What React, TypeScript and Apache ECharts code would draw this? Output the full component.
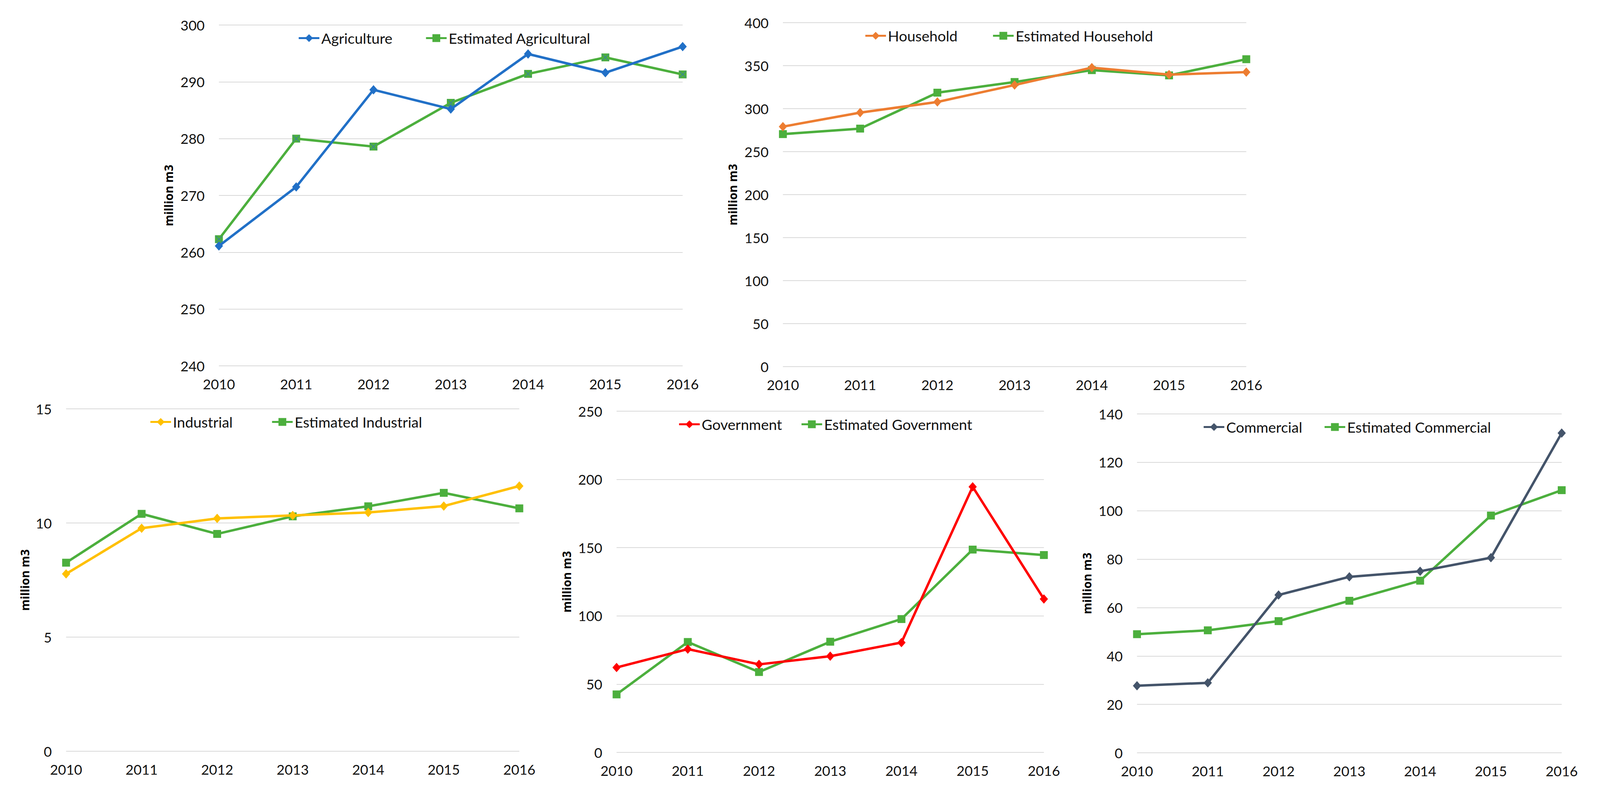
import React, { useEffect, useRef } from "react";
import * as echarts from "echarts";

const years = ["2010", "2011", "2012", "2013", "2014", "2015", "2016"];

const agriculture = [261.1, 271.5, 288.6, 285.2, 294.9, 291.6, 296.2];
const estAgricultural = [262.3, 280.0, 278.6, 286.3, 291.4, 294.3, 291.3];
const household = [279.1, 295.4, 307.8, 327.5, 347.7, 339.6, 342.5];
const estHousehold = [270.4, 276.8, 318.6, 331.0, 344.8, 338.7, 357.5];
const industrial = [7.77, 9.77, 10.2, 10.33, 10.46, 10.74, 11.62];
const estIndustrial = [8.26, 10.4, 9.52, 10.29, 10.73, 11.32, 10.64];
const government = [62.2, 75.7, 64.5, 70.5, 80.5, 194.6, 112.4];
const estGovernment = [42.5, 80.9, 58.9, 81.1, 97.7, 148.6, 144.6];
const commercial = [27.7, 28.9, 65.2, 72.7, 75.0, 80.6, 132.1];
const estCommercial = [49.0, 50.6, 54.4, 62.8, 71.1, 98.0, 108.5];

const axisTitle = "million m3";
const GREEN = "#4CAF3D";

const panels = [
  {
    names: ["Agriculture", "Estimated Agricultural"],
    data: [agriculture, estAgricultural],
    colors: ["#2170C7", GREEN],
    min: 240, max: 300, interval: 10,
    grid: { left: 583, top: 64, width: 1235, height: 872 },
    nameGap: 119,
    legendX: [793, 1132],
  },
  {
    names: ["Household", "Estimated Household"],
    data: [household, estHousehold],
    colors: ["#ED7D31", GREEN],
    min: 0, max: 400, interval: 50,
    grid: { left: 2085, top: 58, width: 1234, height: 880 },
    nameGap: 118,
    legendX: [2302, 2642],
  },
  {
    names: ["Industrial", "Estimated Industrial"],
    data: [industrial, estIndustrial],
    colors: ["#FFC000", GREEN],
    min: 0, max: 15, interval: 5,
    grid: { left: 176, top: 1046, width: 1207, height: 876 },
    nameGap: 94,
    legendX: [398, 722],
  },
  {
    names: ["Government", "Estimated Government"],
    data: [government, estGovernment],
    colors: ["#FF0000", GREEN],
    min: 0, max: 250, interval: 50,
    grid: { left: 1642, top: 1052, width: 1138, height: 873 },
    nameGap: 117,
    legendX: [1806, 2132],
  },
  {
    names: ["Commercial", "Estimated Commercial"],
    data: [commercial, estCommercial],
    colors: ["#44546A", GREEN],
    min: 0, max: 140, interval: 20,
    grid: { left: 3028, top: 1059, width: 1131, height: 867 },
    nameGap: 118,
    legendX: [3203, 3525],
  },
];

const FONT = "Lato, sans-serif";
const NAME_FONT = "'Open Sans', 'DejaVu Sans', sans-serif";
const REF_W = 4261;
const REF_H = 2057;

export default function App() {
  const ref = useRef<HTMLDivElement>(null);

  useEffect(() => {
    const el = ref.current;
    if (!el) return;
    const W = el.clientWidth || REF_W;
    const H = el.clientHeight || REF_H;
    const sx = W / REF_W;
    const sy = H / REF_H;
    const s = Math.min(sx, sy);
    const chart = echarts.init(el, undefined, { renderer: "svg", width: W, height: H });

    const grids: any[] = [];
    const xAxes: any[] = [];
    const yAxes: any[] = [];
    const series: any[] = [];
    const legends: any[] = [];

    panels.forEach((p, i) => {
      grids.push({
        left: p.grid.left * sx,
        top: p.grid.top * sy,
        width: p.grid.width * sx,
        height: p.grid.height * sy,
        containLabel: false,
      });
      xAxes.push({
        type: "category",
        gridIndex: i,
        data: years,
        boundaryGap: false,
        axisLine: { show: false },
        axisTick: { show: false },
        axisLabel: { color: "#111", fontFamily: FONT, fontSize: 37 * s, margin: 30 * s },
        splitLine: { show: false },
      });
      yAxes.push({
        type: "value",
        gridIndex: i,
        min: p.min,
        max: p.max,
        interval: p.interval,
        axisLine: { show: false },
        axisTick: { show: false },
        axisLabel: { color: "#111", fontFamily: FONT, fontSize: 37 * s, margin: 38 * s },
        splitLine: { lineStyle: { color: "#D9D9D9", width: 2 * s } },
        name: axisTitle,
        nameLocation: "middle",
        nameGap: p.nameGap * s,
        nameTextStyle: { fontFamily: NAME_FONT, fontWeight: "bold", fontSize: 31 * s, color: "#000" },
      });
      p.names.forEach((nm, k) => {
        series.push({
          name: nm,
          type: "line",
          xAxisIndex: i,
          yAxisIndex: i,
          data: p.data[k],
          symbol: k === 0 ? "diamond" : "rect",
          symbolSize: k === 0 ? [22 * s, 25 * s] : 21 * s,
          showSymbol: true,
          lineStyle: { color: p.colors[k], width: 6.5 * s },
          itemStyle: { color: p.colors[k] },
          z: k === 0 ? 3 : 2,
        });
        legends.push({
          data: [nm],
          left: p.legendX[k] * sx,
          top: (p.grid.top + 15) * sy,
          padding: 0,
          itemWidth: 55 * s,
          itemHeight: 26 * s,
          lineStyle: { width: 5 * s },
          textStyle: { fontFamily: FONT, fontSize: 39 * s, color: "#111" },
        });
      });
      if (i === 0) {
        series.push({
          name: "estX",
          type: "scatter",
          xAxisIndex: 0,
          yAxisIndex: 0,
          data: estAgricultural,
          symbol: "path://M0,0L10,10M10,0L0,10",
          symbolSize: 17 * s,
          itemStyle: { color: "none", borderColor: "#2F6FC4", borderWidth: 1.5 * s },
          z: 4,
          silent: true,
        });
      }
    });

    chart.setOption({
      animation: false,
      backgroundColor: "#ffffff",
      grid: grids,
      xAxis: xAxes,
      yAxis: yAxes,
      legend: legends,
      series,
    });

    return () => chart.dispose();
  }, []);

  return (
    <div
      ref={ref}
      style={{ position: "fixed", left: 0, top: 0, width: "100vw", height: "100vh", background: "#fff" }}
    />
  );
}
